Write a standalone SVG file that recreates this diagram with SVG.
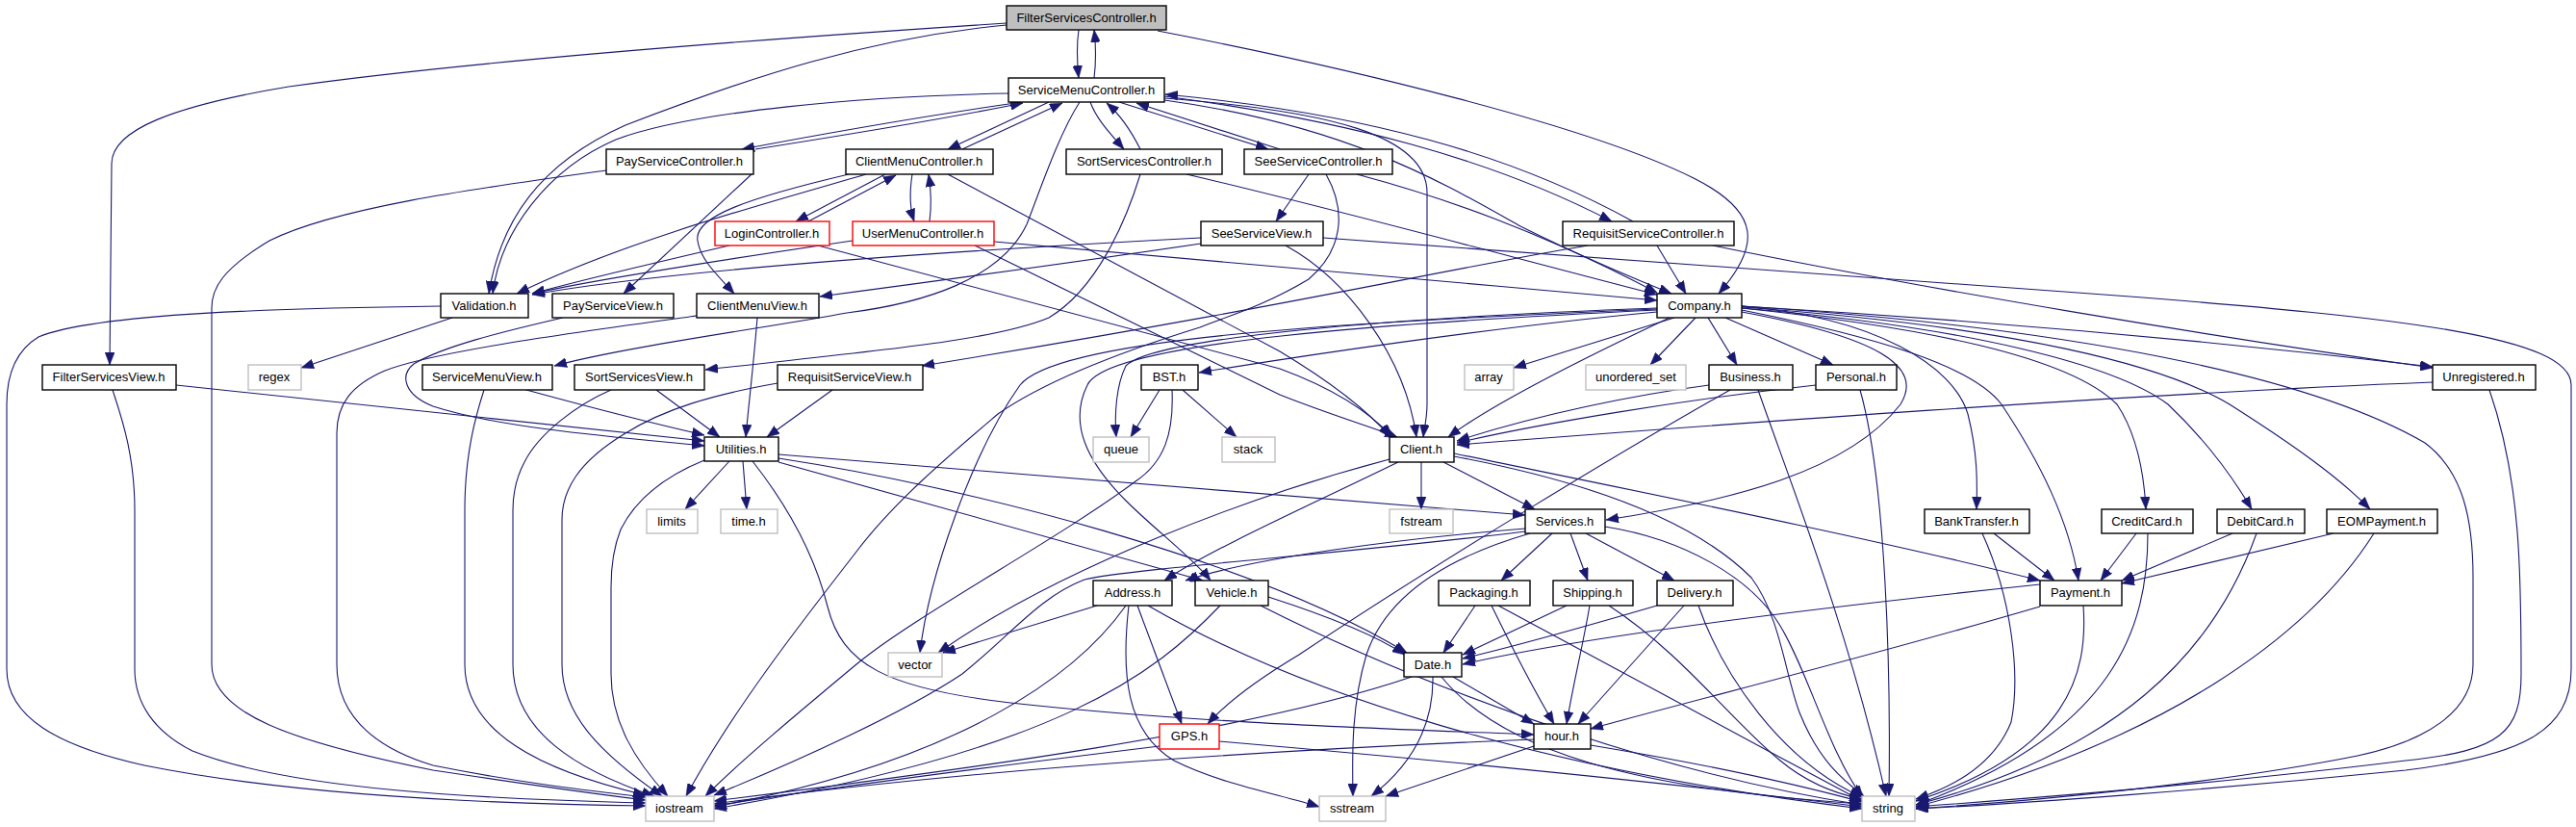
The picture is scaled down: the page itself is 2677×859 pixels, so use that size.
<svg xmlns="http://www.w3.org/2000/svg" width="2677" height="859" viewBox="0 0 2677 859">
<style>
.n rect{fill:#fff;stroke:#000;stroke-width:1.4}
.n.g rect{stroke:#bfbfbf}
.n.r rect{stroke:#ff0000}
.n.f rect{fill:#bfbfbf}
.n text{font-family:"Liberation Sans",Arial,sans-serif;font-size:13px;fill:#000;text-anchor:middle}
#edges path{fill:none;stroke:#191970;stroke-width:1.1;marker-end:url(#arr)}
</style>
<defs>
<marker id="arr" markerUnits="userSpaceOnUse" markerWidth="13" markerHeight="10" refX="13" refY="5" orient="auto">
<path d="M0,0 L13,5 L0,10 z" fill="#191970" stroke="#191970" stroke-width="0.5"/>
</marker>
</defs>
<rect width="2677" height="859" fill="#fff"/>
<g id="edges">
<path d="M1121,31 C1119,45 1119,62 1121,81"/>
<path d="M1137,81 C1139,65 1139,48 1137,31"/>
<path d="M1046,24 C800,40 500,62 300,90 C180,110 116,135 116,170 L114,379"/>
<path d="M1046,26 C900,40 780,80 650,130 C560,170 520,230 508,305"/>
<path d="M1203,32 C1400,70 1650,130 1760,185 C1830,220 1830,255 1786,305"/>
<path d="M1062,106 C950,122 850,140 771,155"/>
<path d="M785,155 C880,140 980,124 1063,107"/>
<path d="M1090,106 L985,155"/>
<path d="M1000,155 L1104,107"/>
<path d="M1133,106 C1140,125 1155,140 1168,155"/>
<path d="M1185,155 C1175,135 1165,120 1150,107"/>
<path d="M1163,106 L1318,155"/>
<path d="M1330,155 L1181,107"/>
<path d="M1210,100 C1400,125 1550,165 1675,230"/>
<path d="M1697,230 C1570,160 1420,118 1211,98"/>
<path d="M1048,97 C900,100 720,115 640,145 C570,175 520,240 512,305"/>
<path d="M1122,106 C1100,140 1080,200 1067,233 C1040,290 960,315 880,325 C800,340 650,360 576,380"/>
<path d="M1210,102 C1380,115 1483,140 1483,200 L1483,420 C1483,435 1480,445 1479,454"/>
<path d="M1210,104 C1400,130 1500,190 1580,235 C1650,270 1700,290 1737,305"/>
<path d="M781,181 L648,305"/>
<path d="M630,177 C500,195 350,215 280,250 C230,280 220,300 220,320 L220,690 C220,740 300,770 450,800 C550,815 620,825 671,831"/>
<path d="M117,405 C125,430 140,470 140,530 L140,695 C140,730 160,760 200,780 C300,820 500,830 671,834"/>
<path d="M458,318 C300,320 100,325 40,350 C15,365 7,390 7,420 L7,695 C7,745 60,775 150,795 C300,825 500,835 671,837"/>
<path d="M470,330 L313,382"/>
<path d="M920,181 L827,230"/>
<path d="M840,230 L931,182"/>
<path d="M948,181 C945,200 945,215 950,230"/>
<path d="M966,230 C968,215 968,200 965,181"/>
<path d="M882,181 C780,205 720,225 725,250 C728,270 745,285 763,305"/>
<path d="M900,181 C800,210 650,250 537,305"/>
<path d="M985,181 L1330,365 C1380,395 1420,425 1445,454"/>
<path d="M758,255 C650,280 600,292 553,305"/>
<path d="M850,255 L1330,383 C1390,405 1425,430 1447,454"/>
<path d="M886,250 C750,270 620,290 553,305"/>
<path d="M1013,255 L1330,410 C1380,430 1430,445 1452,454"/>
<path d="M1033,251 C1300,275 1500,292 1722,312"/>
<path d="M1185,181 C1170,230 1140,300 1090,330 C1030,355 900,365 733,384"/>
<path d="M1233,181 C1400,220 1600,275 1722,306"/>
<path d="M1360,181 L1326,230"/>
<path d="M1410,181 C1500,205 1600,240 1722,304"/>
<path d="M1378,181 C1400,220 1395,260 1360,290 C1310,320 1270,330 1247,340 C1150,370 1080,400 1037,430 C990,470 930,520 890,573 C830,650 760,740 713,827"/>
<path d="M1248,247 C1000,260 700,280 553,306"/>
<path d="M1248,253 C1100,275 950,295 852,308"/>
<path d="M1336,255 C1400,290 1460,370 1472,454"/>
<path d="M1375,247 L2200,307 C2500,330 2672,350 2672,400 L2672,695 C2672,760 2620,785 2500,800 C2300,820 2100,835 1991,840"/>
<path d="M1722,255 L1752,305"/>
<path d="M1780,255 C2000,300 2300,350 2528,382"/>
<path d="M1650,255 C1500,280 1330,320 958,380"/>
<path d="M585,330 C520,345 460,360 430,378 C415,390 420,410 450,422 C520,445 650,455 732,463"/>
<path d="M724,328 C600,345 450,365 400,385 C365,400 350,420 350,450 L350,690 C350,750 400,780 450,795 C550,815 620,822 671,828"/>
<path d="M787,330 C783,380 778,420 775,454"/>
<path d="M183,400 L732,458"/>
<path d="M547,405 C620,425 680,440 732,452"/>
<path d="M503,405 C495,430 483,470 483,530 L483,690 C483,760 560,800 671,826"/>
<path d="M682,405 L748,454"/>
<path d="M635,405 C600,420 560,450 545,480 C537,495 533,510 533,530 L533,690 C533,760 600,800 680,827"/>
<path d="M865,405 L797,454"/>
<path d="M808,398 C740,410 690,425 650,450 C600,480 584,510 584,540 L584,690 C584,740 620,780 688,827"/>
<path d="M758,479 L712,529"/>
<path d="M772,479 L776,529"/>
<path d="M732,478 C690,495 660,520 645,550 C637,570 635,590 635,610 L635,700 C635,750 660,790 694,827"/>
<path d="M809,472 C1100,495 1350,515 1585,535"/>
<path d="M809,480 L1250,603"/>
<path d="M809,476 C1000,505 1300,580 1462,678"/>
<path d="M782,479 C830,540 850,590 860,630 C875,690 920,715 1050,730 C1250,752 1450,757 1594,763"/>
<path d="M1477,480 L1477,529"/>
<path d="M1500,480 L1595,529"/>
<path d="M1444,477 C1300,515 1100,590 975,678"/>
<path d="M1453,480 C1350,530 1260,570 1210,603"/>
<path d="M1511,471 C1700,510 1950,560 2120,603"/>
<path d="M1511,474 C1650,500 1760,540 1820,600 C1850,640 1855,700 1870,740 C1890,790 1915,810 1937,827"/>
<path d="M1668,547 C1750,560 1820,600 1850,650 C1880,700 1900,780 1936,829"/>
<path d="M1613,554 L1560,603"/>
<path d="M1632,554 L1650,603"/>
<path d="M1648,554 L1740,603"/>
<path d="M1585,549 C1450,560 1300,580 1232,603"/>
<path d="M1585,552 C1400,575 1180,590 1127,602 C1080,620 1050,660 1000,700 C940,740 830,790 742,826"/>
<path d="M1590,554 C1500,580 1440,620 1420,680 C1405,730 1405,780 1406,827"/>
<path d="M1533,629 L1500,678"/>
<path d="M1550,629 C1570,670 1590,710 1615,752"/>
<path d="M1557,629 C1650,680 1800,760 1935,832"/>
<path d="M1628,629 L1520,680"/>
<path d="M1652,629 C1645,670 1635,710 1628,752"/>
<path d="M1672,629 C1750,680 1800,750 1850,790 C1880,815 1910,825 1935,830"/>
<path d="M1722,629 C1650,650 1580,670 1520,684"/>
<path d="M1750,629 L1640,752"/>
<path d="M1765,629 C1790,700 1850,790 1935,828"/>
<path d="M2120,607 C1900,630 1650,660 1520,690"/>
<path d="M2120,630 C1950,680 1750,730 1653,757"/>
<path d="M2165,629 C2170,700 2150,780 1991,832"/>
<path d="M1510,703 L1594,752"/>
<path d="M1489,703 C1490,760 1460,800 1425,827"/>
<path d="M1467,703 C1300,760 1000,800 742,832"/>
<path d="M1498,703 C1560,780 1700,820 1935,835"/>
<path d="M1594,775 L1440,827"/>
<path d="M1594,768 C1300,780 1000,800 742,835"/>
<path d="M1653,774 C1750,790 1850,810 1935,833"/>
<path d="M1205,775 C1000,800 850,820 742,837"/>
<path d="M1267,770 C1500,790 1750,815 1935,838"/>
<path d="M1140,629 L980,678"/>
<path d="M1182,629 L1228,752"/>
<path d="M1170,629 C1120,700 1000,790 742,838"/>
<path d="M1173,629 C1165,700 1170,760 1220,790 C1270,815 1330,825 1371,838"/>
<path d="M1193,629 C1350,720 1600,800 1935,840"/>
<path d="M1268,629 C1200,700 1100,780 742,840"/>
<path d="M1318,620 C1380,640 1430,660 1460,680"/>
<path d="M1310,629 C1450,700 1700,800 1935,836"/>
<path d="M1205,405 L1175,454"/>
<path d="M1229,405 L1285,454"/>
<path d="M1218,405 C1220,450 1210,480 1180,500 C1100,560 950,640 890,690 C830,740 770,790 733,827"/>
<path d="M1776,400 C1700,410 1600,430 1514,458"/>
<path d="M1798,405 C1700,460 1500,580 1350,680 C1300,710 1270,735 1255,752"/>
<path d="M1827,405 C1860,500 1920,650 1960,827"/>
<path d="M1887,400 C1750,415 1600,440 1514,460"/>
<path d="M1933,405 C1960,500 1965,700 1963,827"/>
<path d="M2528,397 C2200,410 1800,440 1514,462"/>
<path d="M2587,405 C2620,500 2620,600 2620,700 C2620,760 2600,780 2500,790 C2300,815 2100,830 1991,838"/>
<path d="M1775,330 L1805,379"/>
<path d="M1793,330 L1905,379"/>
<path d="M1740,330 L1573,382"/>
<path d="M1762,330 L1715,379"/>
<path d="M1735,330 C1650,370 1550,420 1505,454"/>
<path d="M1722,324 C1550,340 1350,370 1246,387"/>
<path d="M1722,320 C1450,330 1200,350 1170,380 C1160,400 1158,430 1160,454"/>
<path d="M1722,321 C1400,335 1100,350 1060,400 C1010,470 965,600 956,678"/>
<path d="M1722,322 C1450,335 1150,355 1130,400 C1110,440 1130,480 1170,520 C1200,550 1240,580 1258,603"/>
<path d="M1810,324 C1950,350 2000,380 1975,420 C1920,490 1800,520 1669,540"/>
<path d="M1810,318 C2100,335 2350,360 2528,381"/>
<path d="M1810,318 C1950,330 2030,380 2045,430 C2055,470 2055,500 2054,529"/>
<path d="M1810,320 C2000,340 2150,370 2200,420 C2220,450 2228,490 2230,529"/>
<path d="M1810,320 C2050,340 2200,380 2253,420 C2290,455 2320,495 2340,529"/>
<path d="M1810,319 C2100,340 2250,380 2317,420 C2380,460 2430,495 2463,529"/>
<path d="M1810,322 C1950,350 2050,380 2080,420 C2120,480 2150,540 2160,603"/>
<path d="M1810,318 C2150,340 2400,390 2520,460 C2560,490 2570,540 2570,600 L2570,690 C2570,740 2520,770 2450,785 C2300,815 2100,833 1991,840"/>
<path d="M2072,554 L2135,603"/>
<path d="M2060,554 C2090,620 2100,700 2090,750 C2070,800 2020,820 1991,830"/>
<path d="M2220,554 L2183,603"/>
<path d="M2232,554 C2232,650 2200,760 1991,836"/>
<path d="M2320,554 L2205,603"/>
<path d="M2345,554 C2300,680 2200,780 1991,836"/>
<path d="M2425,554 L2205,606"/>
<path d="M2467,554 C2400,660 2250,770 1991,838"/>
</g>
<g id="n-FilterServicesController" class="n f"><rect x="1046" y="6" width="166" height="25"/><text x="1129" y="23">FilterServicesController.h</text></g>
<g id="n-ServiceMenuController" class="n"><rect x="1048" y="81" width="162" height="25"/><text x="1129" y="98">ServiceMenuController.h</text></g>
<g id="n-PayServiceController" class="n"><rect x="630" y="155" width="153" height="26"/><text x="706" y="172">PayServiceController.h</text></g>
<g id="n-ClientMenuController" class="n"><rect x="879" y="155" width="153" height="26"/><text x="955" y="172">ClientMenuController.h</text></g>
<g id="n-SortServicesController" class="n"><rect x="1108" y="155" width="162" height="26"/><text x="1189" y="172">SortServicesController.h</text></g>
<g id="n-SeeServiceController" class="n"><rect x="1293" y="155" width="154" height="26"/><text x="1370" y="172">SeeServiceController.h</text></g>
<g id="n-LoginController" class="n r"><rect x="743" y="230" width="119" height="25"/><text x="802" y="247">LoginController.h</text></g>
<g id="n-UserMenuController" class="n r"><rect x="886" y="230" width="147" height="25"/><text x="959" y="247">UserMenuController.h</text></g>
<g id="n-SeeServiceView" class="n"><rect x="1248" y="230" width="127" height="25"/><text x="1311" y="247">SeeServiceView.h</text></g>
<g id="n-RequisitServiceController" class="n"><rect x="1624" y="230" width="178" height="25"/><text x="1713" y="247">RequisitServiceController.h</text></g>
<g id="n-Validation" class="n"><rect x="458" y="305" width="91" height="25"/><text x="503" y="322">Validation.h</text></g>
<g id="n-PayServiceView" class="n"><rect x="574" y="305" width="126" height="25"/><text x="637" y="322">PayServiceView.h</text></g>
<g id="n-ClientMenuView" class="n"><rect x="724" y="305" width="127" height="25"/><text x="787" y="322">ClientMenuView.h</text></g>
<g id="n-Company" class="n"><rect x="1722" y="305" width="88" height="25"/><text x="1766" y="322">Company.h</text></g>
<g id="n-FilterServicesView" class="n"><rect x="44" y="379" width="139" height="26"/><text x="113" y="396">FilterServicesView.h</text></g>
<g id="n-regex" class="n g"><rect x="258" y="379" width="55" height="26"/><text x="285" y="396">regex</text></g>
<g id="n-ServiceMenuView" class="n"><rect x="439" y="379" width="135" height="26"/><text x="506" y="396">ServiceMenuView.h</text></g>
<g id="n-SortServicesView" class="n"><rect x="597" y="379" width="135" height="26"/><text x="664" y="396">SortServicesView.h</text></g>
<g id="n-RequisitServiceView" class="n"><rect x="808" y="379" width="151" height="26"/><text x="883" y="396">RequisitServiceView.h</text></g>
<g id="n-BST" class="n"><rect x="1186" y="379" width="59" height="26"/><text x="1215" y="396">BST.h</text></g>
<g id="n-array" class="n g"><rect x="1522" y="379" width="51" height="26"/><text x="1547" y="396">array</text></g>
<g id="n-unordered_set" class="n g"><rect x="1648" y="379" width="104" height="26"/><text x="1700" y="396">unordered_set</text></g>
<g id="n-Business" class="n"><rect x="1776" y="379" width="87" height="26"/><text x="1819" y="396">Business.h</text></g>
<g id="n-Personal" class="n"><rect x="1887" y="379" width="84" height="26"/><text x="1929" y="396">Personal.h</text></g>
<g id="n-Unregistered" class="n"><rect x="2528" y="379" width="107" height="26"/><text x="2581" y="396">Unregistered.h</text></g>
<g id="n-Utilities" class="n"><rect x="732" y="454" width="77" height="25"/><text x="770" y="471">Utilities.h</text></g>
<g id="n-queue" class="n g"><rect x="1136" y="454" width="58" height="26"/><text x="1165" y="471">queue</text></g>
<g id="n-stack" class="n g"><rect x="1270" y="454" width="55" height="26"/><text x="1297" y="471">stack</text></g>
<g id="n-Client" class="n"><rect x="1444" y="454" width="67" height="26"/><text x="1477" y="471">Client.h</text></g>
<g id="n-limits" class="n g"><rect x="672" y="529" width="53" height="25"/><text x="698" y="546">limits</text></g>
<g id="n-time" class="n g"><rect x="749" y="529" width="59" height="25"/><text x="778" y="546">time.h</text></g>
<g id="n-fstream" class="n g"><rect x="1444" y="529" width="66" height="25"/><text x="1477" y="546">fstream</text></g>
<g id="n-Services" class="n"><rect x="1585" y="529" width="83" height="25"/><text x="1626" y="546">Services.h</text></g>
<g id="n-BankTransfer" class="n"><rect x="2000" y="529" width="109" height="25"/><text x="2054" y="546">BankTransfer.h</text></g>
<g id="n-CreditCard" class="n"><rect x="2184" y="529" width="95" height="25"/><text x="2231" y="546">CreditCard.h</text></g>
<g id="n-DebitCard" class="n"><rect x="2304" y="529" width="91" height="25"/><text x="2349" y="546">DebitCard.h</text></g>
<g id="n-EOMPayment" class="n"><rect x="2418" y="529" width="115" height="25"/><text x="2475" y="546">EOMPayment.h</text></g>
<g id="n-Address" class="n"><rect x="1136" y="603" width="82" height="26"/><text x="1177" y="620">Address.h</text></g>
<g id="n-Vehicle" class="n"><rect x="1242" y="603" width="76" height="26"/><text x="1280" y="620">Vehicle.h</text></g>
<g id="n-Packaging" class="n"><rect x="1495" y="603" width="95" height="26"/><text x="1542" y="620">Packaging.h</text></g>
<g id="n-Shipping" class="n"><rect x="1614" y="603" width="83" height="26"/><text x="1655" y="620">Shipping.h</text></g>
<g id="n-Delivery" class="n"><rect x="1722" y="603" width="79" height="26"/><text x="1761" y="620">Delivery.h</text></g>
<g id="n-Payment" class="n"><rect x="2120" y="603" width="85" height="26"/><text x="2162" y="620">Payment.h</text></g>
<g id="n-vector" class="n g"><rect x="923" y="678" width="56" height="25"/><text x="951" y="695">vector</text></g>
<g id="n-Date" class="n"><rect x="1459" y="678" width="60" height="25"/><text x="1489" y="695">Date.h</text></g>
<g id="n-GPS" class="n r"><rect x="1205" y="752" width="62" height="26"/><text x="1236" y="769">GPS.h</text></g>
<g id="n-hour" class="n"><rect x="1594" y="752" width="59" height="26"/><text x="1623" y="769">hour.h</text></g>
<g id="n-iostream" class="n g"><rect x="671" y="827" width="71" height="26"/><text x="706" y="844">iostream</text></g>
<g id="n-sstream" class="n g"><rect x="1371" y="827" width="69" height="26"/><text x="1405" y="844">sstream</text></g>
<g id="n-string" class="n g"><rect x="1935" y="827" width="55" height="26"/><text x="1962" y="844">string</text></g>
</svg>
